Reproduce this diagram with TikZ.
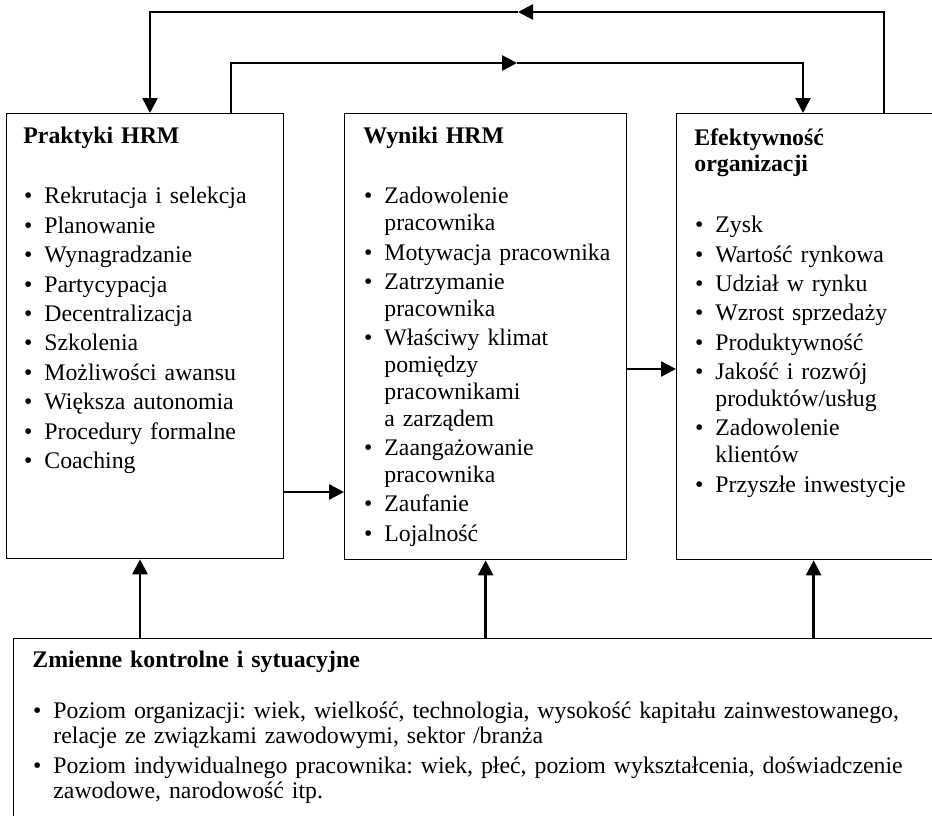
\documentclass[tikz,border=0pt]{standalone}
\usepackage{fontspec}
\setmainfont{Liberation Serif}
\usepackage{enumitem}
\usetikzlibrary{arrows.meta}
\usetikzlibrary{calc}

\frenchspacing
\newlist{punkty}{itemize}{1}
\setlist[punkty]{label=\textbullet,leftmargin=10.5pt,labelsep=6pt,
  topsep=0pt,partopsep=0pt,parsep=0pt,itemsep=1.3pt,before=\raggedright}

\begin{document}
\begin{tikzpicture}
[x=0.5pt,y=-0.5pt,%
  blok/.style={shape=rectangle,draw,line width=0.65pt,inner sep=0pt,anchor=north west},%
  opis/.style={anchor=base west,inner sep=0pt,align=left,
    font=\fontsize{11.9}{13.4}\selectfont},%
  strzalka/.style={line width=1.3pt,-{Triangle[length=7.5pt,width=7.5pt]}}]
\useasboundingbox (0,0) rectangle (932,815);
\node[blok,minimum width=138.5pt,minimum height=222.5pt] (prakt) at (6,113) {};
\node[blok,minimum width=141pt,minimum height=223pt] (wyniki) at (344,113) {};
\node[blok,minimum width=137pt,minimum height=223pt] (efekt) at (676,113) {};
\node[blok,minimum width=473.5pt,minimum height=106pt] (zmienne) at (13,638) {};
\node[opis,text width=125pt] (prakt-opis) at (23,143)
  {\textbf{Praktyki HRM}\par\vspace{17pt}
   \begin{punkty}
   \item Rekrutacja i selekcja
   \item Planowanie
   \item Wynagradzanie
   \item Partycypacja
   \item Decentralizacja
   \item Szkolenia
   \item Możliwości awansu
   \item Większa autonomia
   \item Procedury formalne
   \item Coaching
   \end{punkty}};
\node[opis,text width=128pt] (wyniki-opis) at (363,143)
  {\textbf{Wyniki HRM}\par\vspace{17pt}
   \begin{punkty}
   \item Zadowolenie\\pracownika
   \item Motywacja pracownika
   \item Zatrzymanie\\pracownika
   \item Właściwy klimat\\pomiędzy\\pracownikami\\a zarządem
   \item Zaangażowanie\\pracownika
   \item Zaufanie
   \item Lojalność
   \end{punkty}};
\node[opis,text width=120pt] (efekt-opis) at (694,145)
  {\textbf{Efektywność\\organizacji}\par\vspace{17pt}
   \begin{punkty}
   \item Zysk
   \item Wartość rynkowa
   \item Udział w rynku
   \item Wzrost sprzedaży
   \item Produktywność
   \item Jakość i rozwój\\produktów/usług
   \item Zadowolenie\\klientów
   \item Przyszłe inwestycje
   \end{punkty}};
\node[opis,text width=440pt,font=\fontsize{11.9}{12.5}\selectfont] (zmienne-opis) at (32,667)
  {\textbf{Zmienne kontrolne i sytuacyjne}\par\vspace{13pt}
   \begin{punkty}[itemsep=2.5pt]
   \item Poziom organizacji: wiek, wielkość, technologia, wysokość kapitału zainwestowanego,\\relacje ze związkami zawodowymi, sektor /branża
   \item Poziom indywidualnego pracownika: wiek, płeć, poziom wykształcenia, doświadczenie\\zawodowe, narodowość itp.
   \end{punkty}};
\coordinate (gora1) at (518,12);
\coordinate (gora2) at (517,63);
\coordinate (prakt-dol) at ($(prakt.south west)+(134,0)$);
\draw[strzalka] ($(efekt.north west)+(208,0)$) |- (gora1);
\draw[strzalka] (gora1) -| ($(prakt.north west)+(144,0)$);
\draw[strzalka] ($(prakt.north west)+(225,0)$) |- (gora2);
\draw[strzalka] (gora2) -| ($(efekt.north west)+(127,0)$);
\draw[strzalka] ($(prakt.north east)+(0,379)$) -- ($(wyniki.north west)+(0,379)$);
\draw[strzalka] ($(wyniki.north east)+(0,256)$) -- ($(efekt.north west)+(0,256)$);
\draw[strzalka] (prakt-dol |- zmienne.north) -- (prakt-dol);
\draw[strzalka] (wyniki.south |- zmienne.north) -- (wyniki.south);
\draw[strzalka] (efekt.south |- zmienne.north) -- (efekt.south);
\end{tikzpicture}
\end{document}
